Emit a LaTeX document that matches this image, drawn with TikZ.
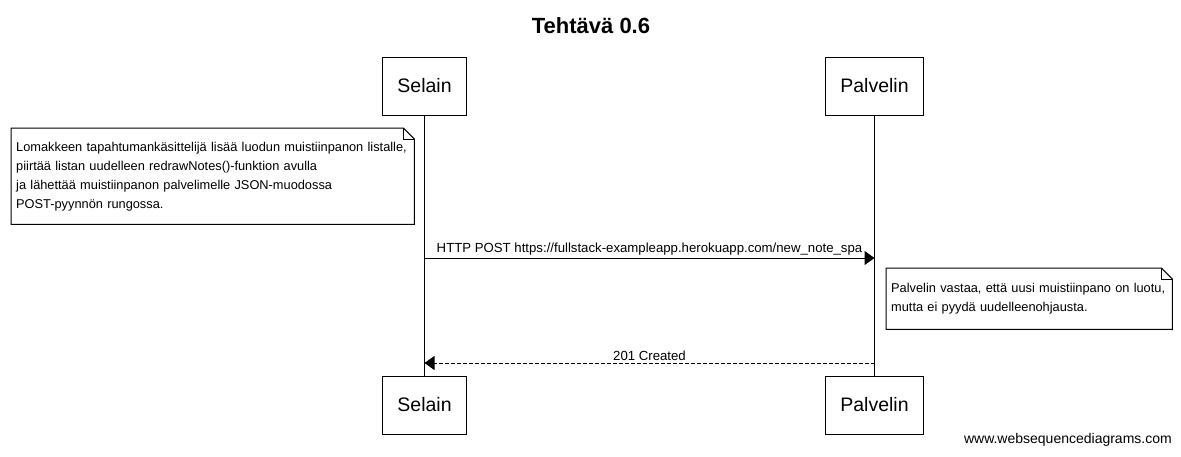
\documentclass[tikz,border=0pt]{standalone}
\usepackage{fontspec}
\setmainfont{Liberation Sans}
\usetikzlibrary{arrows.meta,calc,positioning}
\tikzset{%
	actor/.style  = {draw, rectangle, line width=1pt, inner xsep=15pt, minimum height=58pt, font=\fontsize{19.5}{22}\selectfont},
	note/.style   = {rectangle, inner xsep=5pt, align=left, font=\fontsize{12.8}{19}\selectfont},
	notebox/.style= {line width=1pt},
	life/.style   = {line width=1pt},
	msg/.style    = {line width=1pt, -{Triangle[length=10pt,width=14pt]}},
	reply/.style  = {msg, dash pattern=on 4pt off 2pt},
	msglabel/.style = {font=\fontsize{13.2}{15}\selectfont, inner sep=2pt},
}
\begin{document}
\begin{tikzpicture}[x=1pt,y=-1pt]
	\useasboundingbox (0,0) rectangle (1181,456);
	\node[font=\bfseries\fontsize{22}{26}\selectfont] (title) at (591,26) {Tehtävä 0.6};

	% actors
	\node[actor] (selainTop) at (424.5,86) {Selain};
	\node[actor] (palvelinTop) at (874.5,86) {Palvelin};
	\node[actor] (selainBot) at (424.5,405) {Selain};
	\node[actor] (palvelinBot) at (874.5,405) {Palvelin};
	\draw[life] (selainTop) -- (selainBot);
	\draw[life] (palvelinTop) -- (palvelinBot);

	% first note
	\node[note, text width=393pt, minimum height=96pt, anchor=north west] (note1) at (11,128)
		{Lomakkeen tapahtumankäsittelijä lisää luodun muistiinpanon listalle,\\
		 piirtää listan uudelleen redrawNotes()-funktion avulla\\
		 ja lähettää muistiinpanon palvelimelle JSON-muodossa\\
		 POST-pyynnön rungossa.};
	\draw[notebox] (note1.north west) -- ($(note1.north east)+(-11,0)$) -- ($(note1.north east)+(0,11)$)
		-- (note1.south east) -- (note1.south west) -- cycle;
	\draw[notebox] ($(note1.north east)+(-11,0)$) -- ($(note1.north east)+(-11,11)$) -- ($(note1.north east)+(0,11)$);

	% request
	\coordinate (postFrom) at (selainTop |- 0,258);
	\coordinate (postTo) at (palvelinTop |- 0,258);
	\draw[msg] (postFrom) -- node[msglabel, above] {HTTP POST https://fullstack-exampleapp.herokuapp.com/new\_note\_spa} (postTo);

	% second note
	\node[note, text width=276pt, minimum height=61pt, anchor=north west] (note2) at (886,268)
		{Palvelin vastaa, että uusi muistiinpano on luotu,\\
		 mutta ei pyydä uudelleenohjausta.};
	\draw[notebox] (note2.north west) -- ($(note2.north east)+(-11,0)$) -- ($(note2.north east)+(0,11)$)
		-- (note2.south east) -- (note2.south west) -- cycle;
	\draw[notebox] ($(note2.north east)+(-11,0)$) -- ($(note2.north east)+(-11,11)$) -- ($(note2.north east)+(0,11)$);

	% response
	\coordinate (resFrom) at (palvelinTop |- 0,363);
	\coordinate (resTo) at (selainTop |- 0,363);
	\draw[reply] (resFrom) -- node[msglabel, above] {201 Created} (resTo);

	\node[font=\fontsize{14}{16}\selectfont, anchor=east, inner sep=0pt] (credit) at (1172,440) {www.websequencediagrams.com};
\end{tikzpicture}
\end{document}
